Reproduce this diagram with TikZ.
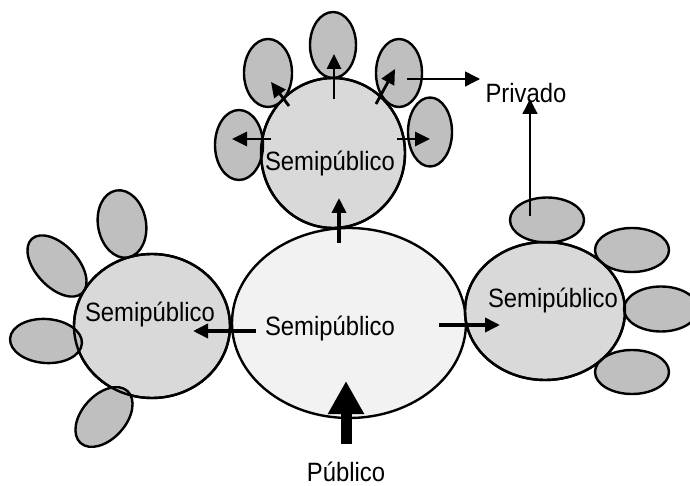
\documentclass[tikz,border=0pt]{standalone}
\usepackage{fontspec}
\usetikzlibrary{shapes.geometric,arrows.meta}
\newfontfamily\labfont[FakeStretch=0.9]{Liberation Sans}
\definecolor{mainfill}{HTML}{F2F2F2}
\definecolor{midfill}{HTML}{D9D9D9}
\definecolor{petalfill}{HTML}{BFBFBF}
\begin{document}
\begin{tikzpicture}[x=1pt,y=-1pt,
  blob/.style={ellipse,draw=black,line width=2.4pt,inner sep=0pt,
    minimum width=#1},
  core/.style={blob=234pt,minimum height=190pt,fill=mainfill},
  petal/.style={ellipse,draw=black,line width=2.4pt,inner sep=0pt,fill=petalfill},
  rim/.style={ellipse,draw=black,line width=2.4pt,inner sep=0pt},
  lab/.style={font=\labfont\fontsize{26.5}{29}\selectfont,inner sep=0pt},
  boldarrow/.style={line width=3.6pt,-{Triangle[length=15pt,width=14pt]}},
  midarrow/.style={line width=2.8pt,-{Triangle[length=15pt,width=14pt]}},
  thinarrow/.style={line width=1.4pt,-{Triangle[length=15pt,width=15pt]}}]
\useasboundingbox (0,0) rectangle (690,486);

% large bodies (fill first, outlines redrawn above the petals)
\node[core] (C) at (349,323) {};
\node[blob=144pt,minimum height=150pt,fill=midfill] (T) at (333,153) {};
\node[blob=156pt,minimum height=144pt,fill=midfill] (L) at (152,326) {};
\node[blob=160pt,minimum height=138pt,fill=midfill] (R) at (545,311) {};

% petals round the upper body
\node[petal,minimum width=48pt,minimum height=70pt] (t1) at (239,145) {};
\node[petal,minimum width=48pt,minimum height=68pt] (t2) at (268,73) {};
\node[petal,minimum width=46pt,minimum height=66pt] (t3) at (333,45) {};
\node[petal,minimum width=46pt,minimum height=68pt] (t4) at (399,73) {};
\node[petal,minimum width=44pt,minimum height=69pt] (t5) at (430,132) {};

% petals round the right body
\node[petal,minimum width=74pt,minimum height=45pt] (r1) at (547,220) {};
\node[petal,minimum width=74pt,minimum height=44pt] (r2) at (632,250) {};
\node[petal,minimum width=74pt,minimum height=45pt] (r3) at (661,309) {};
\node[petal,minimum width=74pt,minimum height=44pt] (r4) at (632,372) {};

% petals round the left body
\node[petal,minimum width=48pt,minimum height=68pt,rotate=10] (l1) at (122,224) {};
\node[petal,minimum width=74pt,minimum height=42pt,rotate=-47] (l2) at (57,266) {};
\node[petal,minimum width=72pt,minimum height=44pt,rotate=-4] (l3) at (46,341) {};
\node[petal,minimum width=70pt,minimum height=44pt,rotate=48] (l4) at (104,417) {};

% outlines of the bodies over the petals
\node[rim,minimum width=144pt,minimum height=150pt] at (T) {};
\node[rim,minimum width=156pt,minimum height=144pt] at (L) {};
\node[rim,minimum width=160pt,minimum height=138pt] at (R) {};

% labels
\node[lab] (cl) at (330,328) {Semipúblico};
\node[lab] (tl) at (330,163) {Semipúblico};
\node[lab] (ll) at (150,314) {Semipúblico};
\node[lab] (rl) at (553,300) {Semipúblico};
\node[lab] (priv) at (526,93) {Privado};
\node[lab] (pub) at (346,472) {Público};

% arrow end points
\coordinate (cL0) at (256,331);  \coordinate (cL1) at (193,331);
\coordinate (cR0) at (439,325);  \coordinate (cR1) at (500,325);
\coordinate (cU0) at (339,243);  \coordinate (cU1) at (339,198);
\coordinate (pub0) at (346,444); \coordinate (pub1) at (346,381);
\coordinate (tU0) at (334,99);   \coordinate (tU1) at (334,54);
\coordinate (tA0) at (289,106);  \coordinate (tA1) at (271,82);
\coordinate (tB0) at (376,104);  \coordinate (tB1) at (395,69);
\coordinate (tW0) at (271,139);  \coordinate (tW1) at (232,139);
\coordinate (tE0) at (397,139);  \coordinate (tE1) at (430,139);
\coordinate (pv0) at (407,79);   \coordinate (pv1) at (480,79);
\coordinate (rv0) at (530,216);  \coordinate (rv1) at (530,99);

% flows out of the central space
\draw[boldarrow] (cL0) -- (cL1);
\draw[boldarrow] (cR0) -- (cR1);
\draw[boldarrow] (cU0) -- (cU1);
\draw[line width=11pt,-{Triangle[length=33pt,width=34pt]}] (pub0) -- (pub1);

% flows out of the upper body
\draw[midarrow] (tU0) -- (tU1);
\draw[midarrow] (tA0) -- (tA1);
\draw[midarrow] (tB0) -- (tB1);
\draw[midarrow] (tW0) -- (tW1);
\draw[midarrow] (tE0) -- (tE1);

% flows towards the private space
\draw[thinarrow] (pv0) -- (pv1);
\draw[thinarrow] (rv0) -- (rv1);
\end{tikzpicture}
\end{document}
